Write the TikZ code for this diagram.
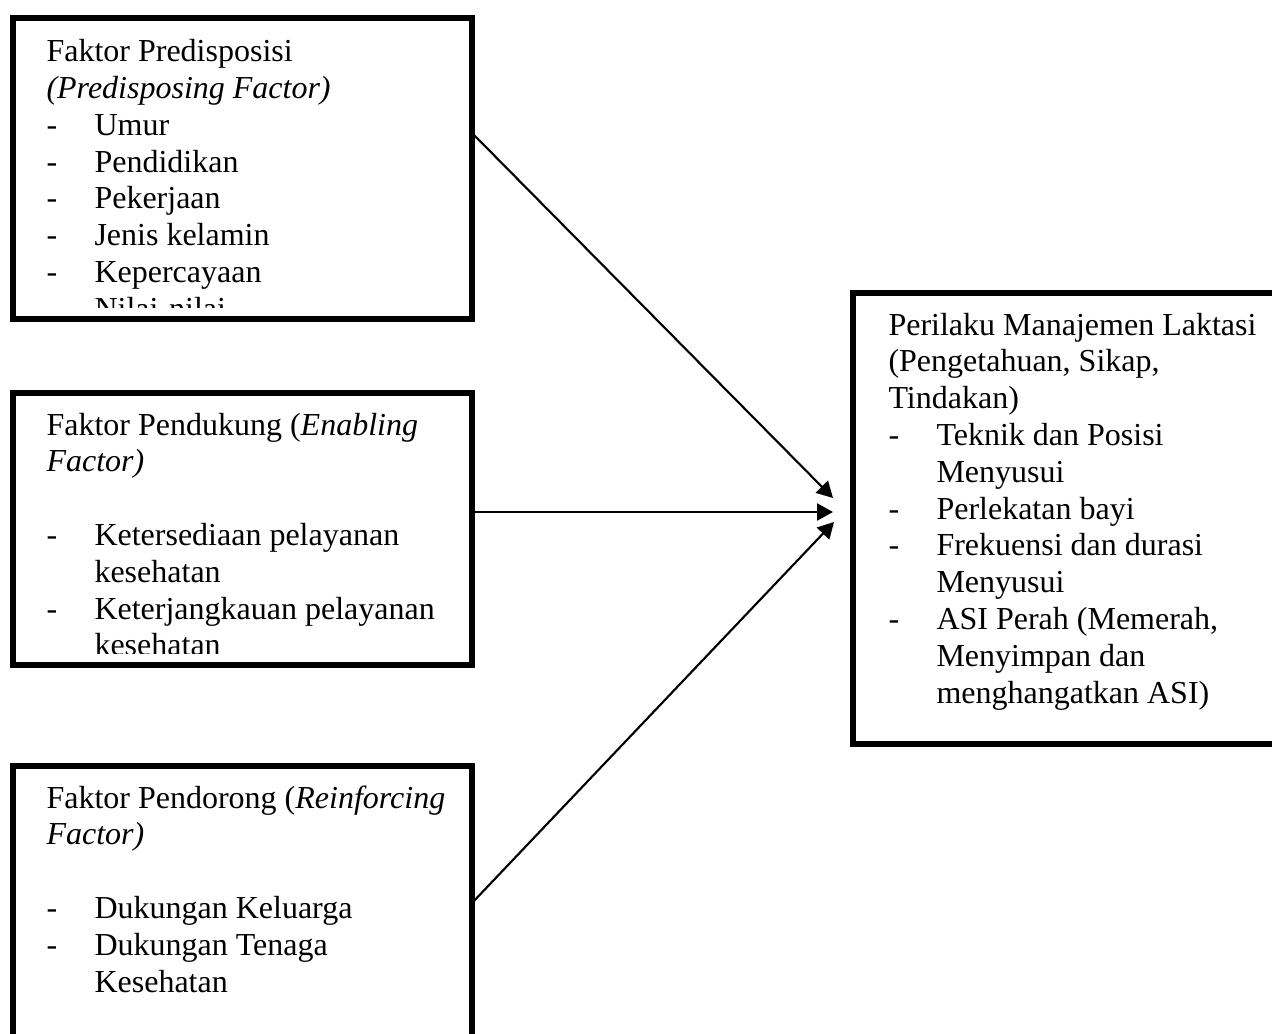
\documentclass[tikz,border=0pt]{standalone}
\usepackage{fontspec}
\setmainfont{Liberation Serif}
\usetikzlibrary{arrows.meta}
\newcommand{\butir}{\makebox[18pt][l]{-}}
\newcommand{\lanjut}{\hspace*{18pt}}

\begin{document}
\begin{tikzpicture}[x=0.375pt, y=-0.375pt,
    kotak/.style={draw, line width=2.25pt, outer sep=0pt, inner sep=0pt},
    isi/.style={anchor=base west, align=left, inner sep=0pt, font=\fontsize{12pt}{13.8pt}\selectfont},
    panah/.style={line width=0.8pt, -{Triangle[length=6pt, width=6.4pt]}}]
    \clip (0,0) rectangle (1272,1034);
    \node[kotak, minimum width={459*0.375pt}, minimum height={301*0.375pt}] (pre) at (242.5,168.5) {};
    \node[kotak, minimum width={459*0.375pt}, minimum height={272*0.375pt}] (dukung) at (242.5,529) {};
    \node[kotak, minimum width={459*0.375pt}, minimum height={279*0.375pt}] (dorong) at (242.5,905.5) {};
    \node[kotak, minimum width={437*0.375pt}, minimum height={451*0.375pt}] (laktasi) at (1071.5,518.5) {};
    \begin{scope}
        \clip (16,22) rectangle (469,308);
        \node[isi] (teksPre) at (46,319.3) {Faktor Predisposisi\\
            \textit{(Predisposing Factor)}\\
            \butir Umur\\
            \butir Pendidikan\\
            \butir Pekerjaan\\
            \butir Jenis kelamin\\
            \butir Kepercayaan\\
            \butir Nilai-nilai};
    \end{scope}
    \begin{scope}
        \clip (16,397) rectangle (469,653);
        \node[isi] (teksDukung) at (46,655.8) {Faktor Pendukung (\textit{Enabling}\\
            \textit{Factor)}\\[13.8pt]
            \butir Ketersediaan pelayanan\\
            \lanjut kesehatan\\
            \butir Keterjangkauan pelayanan\\
            \lanjut kesehatan};
    \end{scope}
    \node[isi] (teksDorong) at (46,992) {Faktor Pendorong (\textit{Reinforcing}\\
        \textit{Factor)}\\[13.8pt]
        \butir Dukungan Keluarga\\
        \butir Dukungan Tenaga\\
        \lanjut Kesehatan};
    \node[isi] (teksLaktasi) at (888,703) {Perilaku Manajemen Laktasi\\
        (Pengetahuan, Sikap,\\
        Tindakan)\\
        \butir Teknik dan Posisi\\
        \lanjut Menyusui\\
        \butir Perlekatan bayi\\
        \butir Frekuensi dan durasi\\
        \lanjut Menyusui\\
        \butir ASI Perah (Memerah,\\
        \lanjut Menyimpan dan\\
        \lanjut menghangatkan ASI)};
    \coordinate (t1) at (833,498);
    \coordinate (t2) at (833,512);
    \coordinate (t3) at (834,522);
    \draw[panah] (pre.east |- 0,133) -- (t1);
    \draw[panah] (dukung.east |- t2) -- (t2);
    \draw[panah] (dorong.east |- 0,903) -- (t3);
\end{tikzpicture}
\end{document}
